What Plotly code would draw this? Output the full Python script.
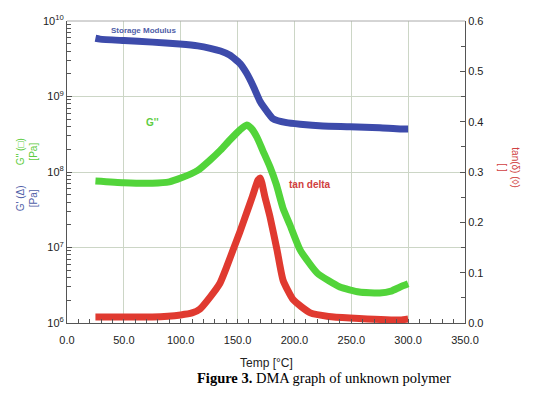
import plotly.graph_objects as go

# ---- data ----
temp_storage = [25, 29, 50, 75, 99, 115, 126, 135, 143, 152, 158, 164, 170, 176, 181, 193,
                205, 225, 249, 275, 293, 300]
storage_modulus = [5.9e9, 5.75e9, 5.5e9, 5.25e9, 4.95e9, 4.68e9, 4.35e9, 4.0e9, 3.55e9, 2.75e9,
                   2.03e9, 1.35e9, 8.5e8, 6.3e8, 5.1e8, 4.5e8, 4.29e8, 4.07e8, 3.98e8, 3.85e8,
                   3.72e8, 3.72e8]

temp_loss = [25, 50, 75, 90, 100, 115, 126, 135, 143, 152, 158, 162, 167, 172, 178.5, 184,
             190, 196, 205, 220, 240, 257, 275, 285, 293, 300]
loss_modulus = [7.6e7, 7.2e7, 7.1e7, 7.4e7, 8.3e7, 1.05e8, 1.45e8, 1.95e8, 2.63e8, 3.6e8,
                4.2e8, 3.8e8, 2.9e8, 1.95e8, 1.17e8, 6.9e7, 3.3e7, 2.0e7, 9.3e6, 4.6e6,
                3.0e6, 2.57e6, 2.5e6, 2.65e6, 3.0e6, 3.3e6]

temp_tan = [25, 50, 75, 100, 110, 117, 126, 134.5, 140, 146, 152, 158, 163, 168, 170, 174,
            178.5, 184.7, 190, 199, 214, 230, 249, 293, 300]
tan_delta = [0.012, 0.012, 0.012, 0.016, 0.020, 0.028, 0.052, 0.079, 0.109, 0.145, 0.181,
             0.219, 0.251, 0.284, 0.288, 0.251, 0.211, 0.145, 0.085, 0.046, 0.020, 0.013,
             0.010, 0.006, 0.008]

x_ticks = [0, 50, 100, 150, 200, 250, 300, 350]
y_ticks = [1e6, 1e7, 1e8, 1e9, 1e10]
y_ticktext = ["10<sup>6</sup>", "10<sup>7</sup>", "10<sup>8</sup>", "10<sup>9</sup>", "10<sup>10</sup>"]
y_minor = [k * 10 ** n for n in range(6, 10) for k in range(2, 10)]
y2_ticks = [0.0, 0.1, 0.2, 0.3, 0.4, 0.5, 0.6]

BLUE = "#3d4bab"
GREEN = "#52d43a"
RED = "#e03a30"
GRID = "#ccd6c6"
AXIS = "#555555"
FONT = "Liberation Sans, Arial, sans-serif"

fig = go.Figure()
fig.add_trace(go.Scatter(x=temp_storage, y=storage_modulus, mode="lines",
                         line=dict(color=BLUE, width=7, shape="spline", smoothing=0.5),
                         showlegend=False))
fig.add_trace(go.Scatter(x=temp_loss, y=loss_modulus, mode="lines",
                         line=dict(color=GREEN, width=7, shape="spline", smoothing=0.5),
                         showlegend=False))
fig.add_trace(go.Scatter(x=temp_tan, y=tan_delta, mode="lines", yaxis="y2",
                         line=dict(color=RED, width=7, shape="spline", smoothing=0.5),
                         showlegend=False))

fig.update_layout(
    width=541, height=387,
    margin=dict(l=59, r=84, t=13, b=72),
    paper_bgcolor="white", plot_bgcolor="white",
    font=dict(family=FONT, size=11, color="#222222"),
    xaxis=dict(range=[0, 350], tickvals=x_ticks, tickformat=".1f",
               showgrid=True, gridcolor=GRID, gridwidth=1, zeroline=False,
               showline=True, linecolor=AXIS, linewidth=1, mirror=False,
               ticks="inside", ticklen=4, tickcolor=AXIS, ticklabelstandoff=7,
               minor=dict(dtick=10, tick0=0, ticks="inside", ticklen=4, tickcolor=AXIS, showgrid=False),
               tickfont=dict(size=11), automargin=False),
    yaxis=dict(type="log", range=[6, 10], tickvals=y_ticks, ticktext=y_ticktext,
               showgrid=True, gridcolor=GRID, gridwidth=1, zeroline=False,
               showline=True, linecolor=AXIS, linewidth=1,
               ticks="inside", ticklen=5, tickcolor=AXIS,
               minor=dict(tickvals=y_minor, ticks="inside", ticklen=4, tickcolor=AXIS, showgrid=False),
               tickfont=dict(size=11), automargin=False),
    yaxis2=dict(overlaying="y", side="right", range=[0, 0.6], tickvals=y2_ticks, tickformat=".1f",
                showgrid=False, zeroline=False, showline=True, linecolor=AXIS, linewidth=1,
                ticks="inside", ticklen=5, tickcolor=AXIS,
                minor=dict(dtick=0.05, ticks="inside", ticklen=4, tickcolor=AXIS),
                tickfont=dict(size=11), automargin=False),
)

# top frame line
fig.add_shape(type="line", xref="paper", yref="paper", x0=0, x1=1, y0=1, y1=1,
              line=dict(color="#aaaaaa", width=1))

# in-plot labels
fig.add_annotation(x=67.7, y=9.87, xref="x", yref="y", text="<b>Storage Modulus</b>",
                   showarrow=False, font=dict(size=8, color="#5060a8"))
fig.add_annotation(x=75, y=8.66, xref="x", yref="y", text="<b>G''</b>",
                   showarrow=False, font=dict(size=10, color="#5ccc40"))
fig.add_annotation(x=213.7, y=0.276, xref="x", yref="y2", text="<b>tan delta</b>",
                   showarrow=False, font=dict(size=10, color="#d04040"))

# axis titles
fig.add_annotation(x=-0.100, y=0.566, xref="paper", yref="paper", text="G'' (□)<br>[Pa]",
                   xanchor="center", yanchor="middle",
                   textangle=-90, showarrow=False, font=dict(size=10, color="#5ccc40"))
fig.add_annotation(x=-0.100, y=0.414, xref="paper", yref="paper", text="G' (Δ)<br>[Pa]",
                   xanchor="center", yanchor="middle",
                   textangle=-90, showarrow=False, font=dict(size=10, color="#5060a8"))
fig.add_annotation(x=1.110, y=0.513, xref="paper", yref="paper", text="tan(δ) (◊)<br>[ ]",
                   xanchor="center", yanchor="middle",
                   textangle=90, showarrow=False, font=dict(size=10, color="#d04040"))
fig.add_annotation(x=0.5, y=-0.132, xref="paper", yref="paper", text="Temp [°C]",
                   xanchor="center", yanchor="middle",
                   showarrow=False, font=dict(size=12, color="#222222"))

# caption
fig.add_annotation(x=0.3216, y=-0.182, xref="paper", yref="paper", xanchor="left",
                   yanchor="middle",
                   text="<b>Figure 3.</b> DMA graph of unknown polymer",
                   showarrow=False, font=dict(family="Liberation Serif, Times New Roman, serif",
                                              size=14.5, color="black"))

fig.write_html("out.html")
